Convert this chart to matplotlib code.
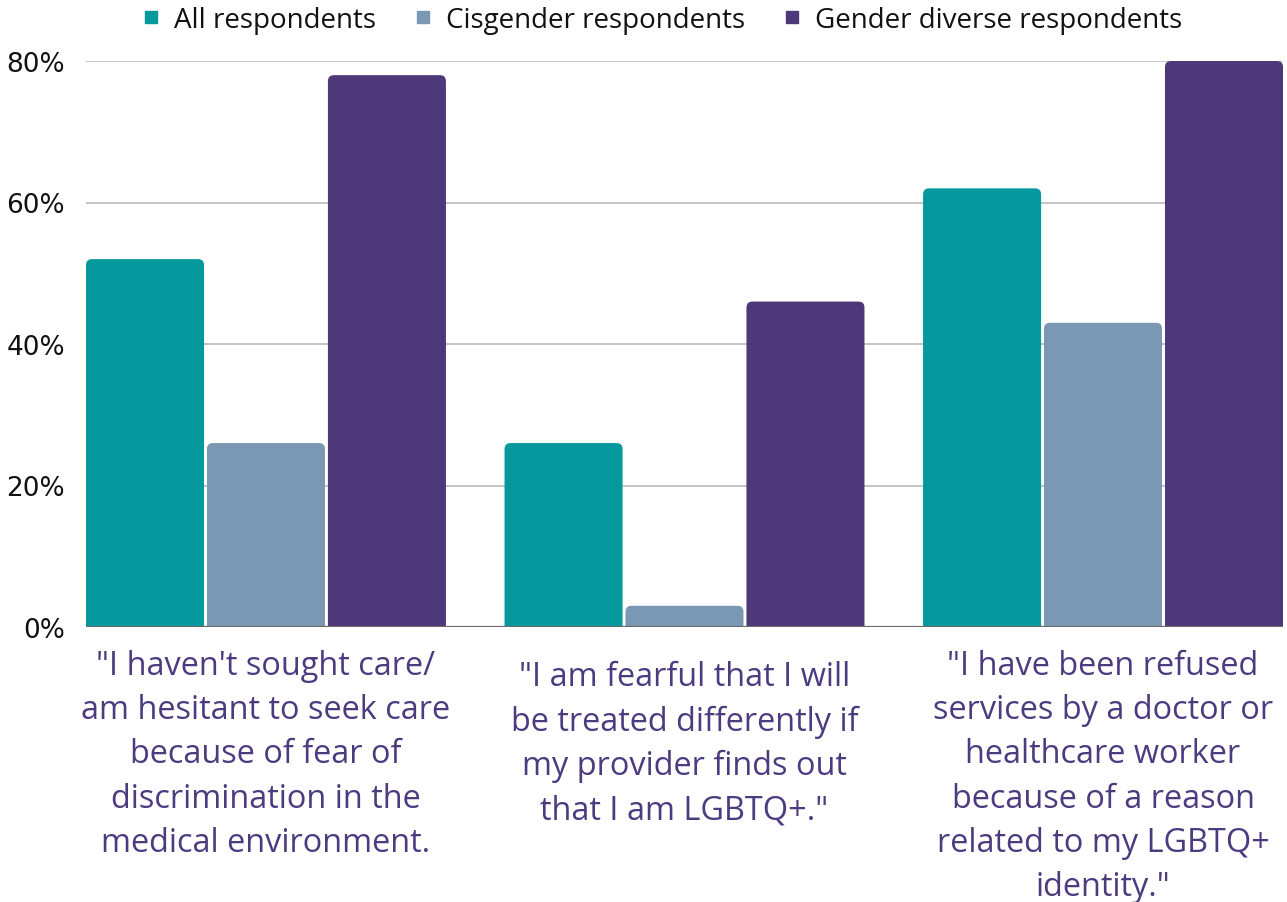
import matplotlib
matplotlib.use("Agg")
import matplotlib.pyplot as plt
from matplotlib.patches import FancyBboxPatch
from matplotlib.lines import Line2D
from matplotlib.transforms import blended_transform_factory
import numpy as np

# ---- data -------------------------------------------------------------
categories = [
    "\"I haven't sought care/\nam hesitant to seek care\nbecause of fear of\ndiscrimination in the\nmedical environment.",
    "\"I am fearful that I will\nbe treated differently if\nmy provider finds out\nthat I am LGBTQ+.\"",
    "\"I have been refused\nservices by a doctor or\nhealthcare worker\nbecause of a reason\nrelated to my LGBTQ+\nidentity.\"",
]
series_names = ["All respondents", "Cisgender respondents", "Gender diverse respondents"]
all_respondents = [52, 26, 62]
cisgender_respondents = [26, 3, 43]
gender_diverse_respondents = [78, 46, 80]
y_ticks = [0, 20, 40, 60, 80]

colors = ["#05999E", "#7A98B3", "#4D3879"]
label_color = "#4D3B80"
font = "Open Sans"

# ---- figure / axes ----------------------------------------------------
W, H = 1287, 903
fig = plt.figure(figsize=(W / 100, H / 100), dpi=100)
ax = fig.add_axes([86 / W, (H - 628) / H, (1283 - 86) / W, (628 - 62) / H])

x = np.arange(len(categories))
xlim = (-0.43, len(categories) - 1 + 0.43)
ylim = (0, 80)
ax.set_xlim(*xlim)
ax.set_ylim(*ylim)

bar_w = 0.282
pitch = 0.289
offsets = [-pitch, 0, pitch]
series = [all_respondents, cisgender_respondents, gender_diverse_respondents]

# rounding radius in x data units and aspect to keep corners circular
ax_w_px = 1283 - 86
ax_h_px = 628 - 62
x_per_px = (xlim[1] - xlim[0]) / ax_w_px
y_per_px = (ylim[1] - ylim[0]) / ax_h_px
radius = 6 * x_per_px
aspect = y_per_px / x_per_px

for vals, off, col, name in zip(series, offsets, colors, series_names):
    bars = ax.bar(x + off, vals, width=bar_w, color=col, label=name, zorder=2)
    for rect in bars:
        rx, ry = rect.get_x(), rect.get_y()
        rw, rh = rect.get_width(), rect.get_height()
        rect.set_visible(False)
        ext = 3.0  # extend below baseline so only the top corners look rounded
        patch = FancyBboxPatch(
            (rx, ry - ext), rw, rh + ext,
            boxstyle=f"round,pad=0,rounding_size={radius}",
            mutation_aspect=aspect,
            facecolor=col, edgecolor="none", zorder=2,
        )
        ax.add_patch(patch)

# gridlines and baseline
for t in y_ticks[1:]:
    ax.axhline(t, color="#BFBFBF", lw=1.3, zorder=1)
ax.axhline(0, color="#6B6B6B", lw=1.6, zorder=3)

for s in ax.spines.values():
    s.set_visible(False)

ax.set_yticks(y_ticks)
ax.set_yticklabels([f"{t}%" for t in y_ticks], fontfamily="DejaVu Sans", fontsize=19, color="#111111")
ax.set_xticks([])
ax.tick_params(axis="y", length=0, pad=15)

# category labels under each group
trans = blended_transform_factory(ax.transData, fig.transFigure)
label_tops = [650, 661, 650]
for xi, lab, top in zip(x, categories, label_tops):
    ax.text(xi, 1 - top / H, lab, transform=trans, ha="center", va="top",
            fontfamily=font, fontsize=23.4, color=label_color, linespacing=1.45)

# legend
handles = [Line2D([], [], marker="s", linestyle="", markersize=8, color=c) for c in colors]
fig.legend(handles, series_names, loc="center", bbox_to_anchor=(664 / W, 1 - 21 / H),
           ncol=3, frameon=False, prop={"family": font, "size": 20},
           handlelength=0.4, handletextpad=0.61, columnspacing=1.51, labelcolor="#111111",
           borderaxespad=0, borderpad=0)

fig.savefig("out.png", dpi=100, facecolor="white")
